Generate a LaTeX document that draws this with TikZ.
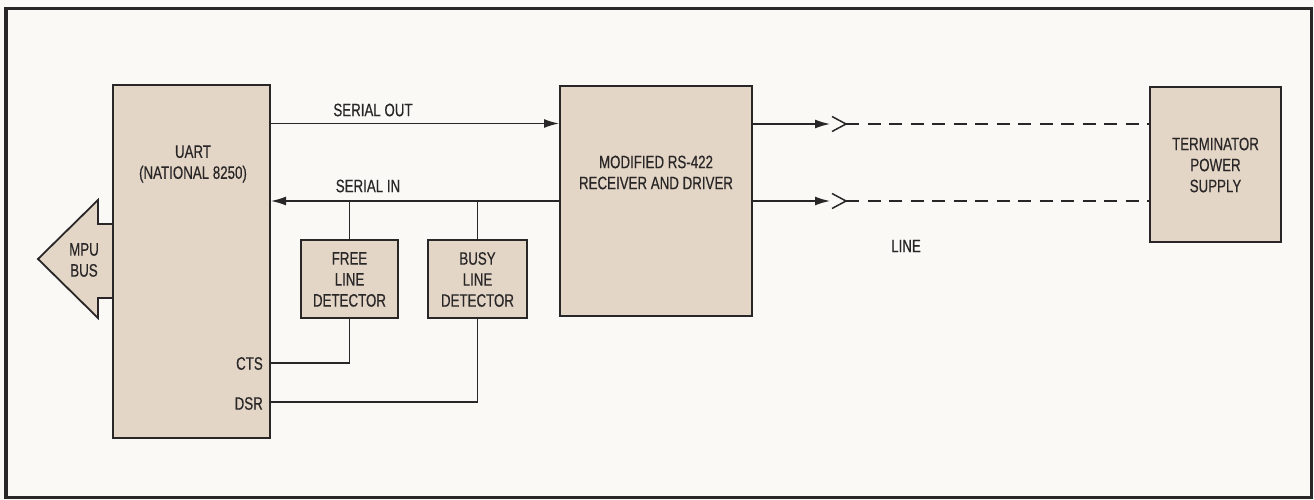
\documentclass[tikz,border=0pt]{standalone}
\usepackage{fontspec}
\setmainfont{Liberation Sans}[FakeStretch=0.74,FakeBold=0.4]
\usetikzlibrary{arrows.meta}
\definecolor{boxfill}{RGB}{228,214,199}
\definecolor{paper}{RGB}{250,249,245}
\definecolor{ink}{RGB}{40,38,38}
\begin{document}
\begin{tikzpicture}[x=1pt,y=-1pt,
  blk/.style={draw=ink, line width=2pt, fill=boxfill, inner sep=0pt},
  wire/.style={draw=ink, line width=1.5pt},
  lbl/.style={font=\fontsize{18}{21}\selectfont, text=ink, align=center, inner sep=0pt},
  arr/.style={wire, -{Latex[length=15pt,width=9pt]}},
  dsh/.style={draw=ink, line width=1.6pt, dash pattern=on 13pt off 8.5pt},
]
\fill[paper] (0,0) rectangle (1314,500);
\useasboundingbox (0,0) rectangle (1314,500);
\draw[ink, line width=3.5pt] (6,8.5) rectangle (1311.5,497.5);

% MPU bus arrow
\filldraw[draw=ink, fill=boxfill, line width=1.8pt, line join=miter]
  (113,224) -- (98,224) -- (98,200) -- (38,259) -- (98,318) -- (98,298) -- (113,298);
\node[lbl] (mpu) at (84,260) {MPU\\BUS};

% blocks
\node[blk, minimum width=157pt, minimum height=353pt] (uart) at (191.5,261.5) {};
\node[blk, minimum width=192pt, minimum height=230pt] (recv) at (656,201) {};
\node[blk, minimum width=131pt, minimum height=155pt] (term) at (1215.5,164.5) {};
\node[blk, minimum width=97pt, minimum height=78pt] (free) at (349.5,279) {};
\node[blk, minimum width=99pt, minimum height=78pt] (busy) at (477.5,279) {};

% block texts
\node[lbl] (uarttxt) at (193,164) {UART\\(NATIONAL 8250)};
\node[lbl] (recvtxt) at (656,172.5) {MODIFIED RS-422\\RECEIVER AND DRIVER};
\node[lbl] (termtxt) at (1215.5,165) {TERMINATOR\\POWER\\SUPPLY};
\node[lbl] (freetxt) at (349.5,279.5) {FREE\\LINE\\DETECTOR};
\node[lbl] (busytxt) at (477.5,279.5) {BUSY\\LINE\\DETECTOR};
\node[lbl, anchor=east] (cts) at (263,363.5) {CTS};
\node[lbl, anchor=east] (dsr) at (263,403.5) {DSR};

% helper coordinates
\coordinate (so) at (400,123.5);
\coordinate (si) at (400,201);
\coordinate (ctsy) at (400,363);
\coordinate (dsry) at (400,402);
\coordinate (o1) at (830,124);
\coordinate (o2) at (830,201);
\coordinate (c1) at (846,124);
\coordinate (c2) at (846,201);

% connectors
\draw[arr] (uart.east |- so) -- (recv.west |- so);
\draw[arr] (recv.west |- si) -- (uart.east |- si);
\draw[wire] (free.north) -- (free.north |- si);
\draw[wire] (busy.north) -- (busy.north |- si);
\draw[wire] (free.south) -- (free.south |- ctsy) -- (uart.east |- ctsy);
\draw[wire] (busy.south) -- (busy.south |- dsry) -- (uart.east |- dsry);

\draw[arr] (recv.east |- o1) -- (o1);
\draw[arr] (recv.east |- o2) -- (o2);
\draw[wire] ([xshift=-14pt,yshift=-7.5pt]c1) -- (c1) -- ([xshift=-14pt,yshift=7.5pt]c1);
\draw[wire] ([xshift=-14pt,yshift=-7.5pt]c2) -- (c2) -- ([xshift=-14pt,yshift=7.5pt]c2);
\draw[dsh] (c1) -- (term.west |- c1);
\draw[dsh] (c2) -- (term.west |- c2);

% labels
\node[lbl] (solbl) at (373,110) {SERIAL OUT};
\node[lbl] (silbl) at (368,186) {SERIAL IN};
\node[lbl] (linelbl) at (906,246) {LINE};
\end{tikzpicture}
\end{document}
